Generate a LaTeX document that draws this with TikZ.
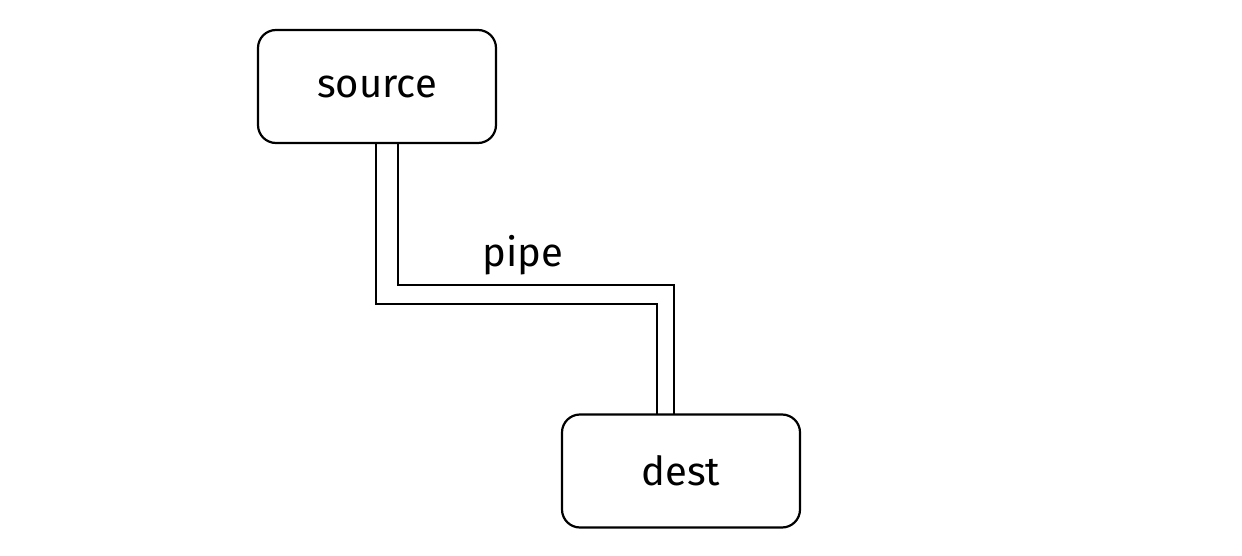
\documentclass[tikz,border=0pt]{standalone}
\usepackage{fontspec}
\setmainfont{Fira Sans}
\begin{document}
\begin{tikzpicture}[x=0.5pt,y=-0.5pt,
  box/.style={draw=black,line width=1.1pt,rounded corners=9pt,fill=white,
    minimum width=119pt,minimum height=56.5pt,inner sep=0pt,
    font=\fontsize{20}{24}\selectfont},
  lbl/.style={font=\fontsize{20}{24}\selectfont},
  pipeline/.style={draw=black,line width=0.65pt}]
\useasboundingbox[fill=white] (0,0) rectangle (1242,556);
\node[lbl] (pipe) at (523,255) {pipe};
\coordinate (o1) at (376,143);
\coordinate (o2) at (376,304);
\coordinate (o3) at (657,304);
\coordinate (o4) at (657,415);
\coordinate (i1) at (398,143);
\coordinate (i2) at (398,285);
\coordinate (i3) at (674,285);
\coordinate (i4) at (674,415);
\draw[pipeline] (o1) -- (o2) -- (o3) -- (o4);
\draw[pipeline] (i1) -- (i2) -- (i3) -- (i4);
\node[box] (source) at (377,86.5) {source};
\node[box] (dest) at (681,471) {dest};
\end{tikzpicture}
\end{document}
